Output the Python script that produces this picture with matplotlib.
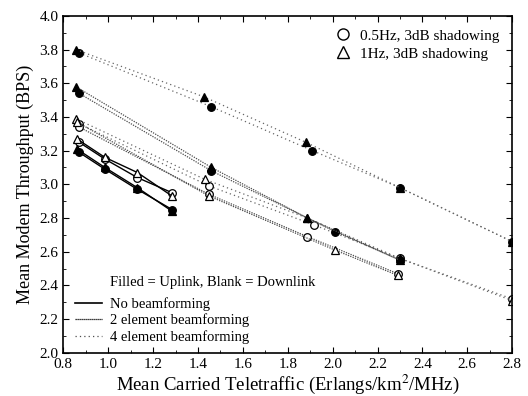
import numpy as np
import matplotlib.pyplot as plt
from matplotlib.lines import Line2D
from matplotlib.ticker import MultipleLocator

plt.rc('font', family='serif')
plt.rc('font', serif='Liberation Serif')
plt.rcParams['mathtext.fontset'] = 'stix'
fonts = 10.5

# no beamforming
nb_ul_05_x = [0.87, 0.985, 1.13, 1.285]
nb_ul_05_y = [3.19, 3.09, 2.97, 2.85]
nb_ul_1_x = [0.86, 0.985, 1.13, 1.285]
nb_ul_1_y = [3.21, 3.10, 2.98, 2.84]
nb_dl_05_x = [0.87, 0.985, 1.13, 1.285]
nb_dl_05_y = [3.25, 3.15, 3.04, 2.95]
nb_dl_1_x = [0.86, 0.985, 1.13, 1.285]
nb_dl_1_y = [3.27, 3.16, 3.07, 2.93]

# 2 element beamforming
b2_ul_05_x = [0.87, 1.46, 2.01, 2.30]
b2_ul_05_y = [3.54, 3.08, 2.72, 2.55]
b2_ul_1_x = [0.855, 1.46, 1.887, 2.30]
b2_ul_1_y = [3.58, 3.10, 2.80, 2.55]
b2_dl_05_x = [0.87, 1.45, 1.887, 2.29]
b2_dl_05_y = [3.34, 2.94, 2.69, 2.47]
b2_dl_1_x = [0.86, 1.45, 2.01, 2.29]
b2_dl_1_y = [3.37, 2.93, 2.61, 2.46]

# 4 element beamforming
b4_ul_05_x = [0.87, 1.46, 1.91, 2.30, 2.80]
b4_ul_05_y = [3.78, 3.46, 3.20, 2.98, 2.66]
b4_ul_1_x = [0.855, 1.425, 1.88, 2.30, 2.80]
b4_ul_1_y = [3.80, 3.52, 3.25, 2.98, 2.66]
b4_dl_05_x = [0.87, 1.45, 1.915, 2.30, 2.80]
b4_dl_05_y = [3.36, 2.99, 2.76, 2.56, 2.32]
b4_dl_1_x = [0.855, 1.43, 1.887, 2.30, 2.80]
b4_dl_1_y = [3.39, 3.03, 2.80, 2.56, 2.31]

fig = plt.figure(figsize=(5.28, 3.96), dpi=100)
ax = fig.add_axes([0.12, 0.109, 0.85, 0.851])

ls_nb = '-'
ls_b2 = (0, (1, 1))
ls_b4 = (0, (1, 2.5))
col_nb = 'k'
col_b2 = '0.3'
col_b4 = '0.4'
ms = 5.5

def draw(x, y, ls, lc, marker, filled):
    ax.plot(x, y, linestyle=ls, color=lc, linewidth=1.0 if ls == '-' else 0.9)
    ax.plot(x, y, linestyle='none', marker=marker, markersize=ms,
            markerfacecolor='k' if filled else 'white',
            markeredgecolor='k', markeredgewidth=0.9)

draw(b4_ul_05_x, b4_ul_05_y, ls_b4, col_b4, 'o', True)
draw(b4_ul_1_x, b4_ul_1_y, ls_b4, col_b4, '^', True)
draw(b4_dl_05_x, b4_dl_05_y, ls_b4, col_b4, 'o', False)
draw(b4_dl_1_x, b4_dl_1_y, ls_b4, col_b4, '^', False)
draw(b2_ul_05_x, b2_ul_05_y, ls_b2, col_b2, 'o', True)
draw(b2_ul_1_x, b2_ul_1_y, ls_b2, col_b2, '^', True)
draw(b2_dl_05_x, b2_dl_05_y, ls_b2, col_b2, 'o', False)
draw(b2_dl_1_x, b2_dl_1_y, ls_b2, col_b2, '^', False)
draw(nb_dl_05_x, nb_dl_05_y, ls_nb, col_nb, 'o', False)
draw(nb_dl_1_x, nb_dl_1_y, ls_nb, col_nb, '^', False)
draw(nb_ul_05_x, nb_ul_05_y, ls_nb, col_nb, 'o', True)
draw(nb_ul_1_x, nb_ul_1_y, ls_nb, col_nb, '^', True)

ax.set_xlim(0.8, 2.8)
ax.set_ylim(2.0, 4.0)
ax.xaxis.set_major_locator(MultipleLocator(0.2))
ax.xaxis.set_minor_locator(MultipleLocator(0.1))
ax.yaxis.set_major_locator(MultipleLocator(0.2))
ax.yaxis.set_minor_locator(MultipleLocator(0.1))
ax.xaxis.set_major_formatter(plt.FormatStrFormatter('%.1f'))
ax.yaxis.set_major_formatter(plt.FormatStrFormatter('%.1f'))
ax.tick_params(which='both', direction='in', top=True, right=True, labelsize=11)
ax.tick_params(which='major', length=4)
ax.tick_params(which='minor', length=2)
for s in ax.spines.values():
    s.set_linewidth(1.2)

ax.set_xlabel('Mean Carried Teletraffic (Erlangs/km$^2$/MHz)', fontsize=13.5, labelpad=1.5)
ax.set_ylabel('Mean Modem Throughput (BPS)', fontsize=13, labelpad=4)

h1 = [Line2D([], [], linestyle='none', marker='o', markersize=8, markerfacecolor='white', markeredgecolor='k'),
      Line2D([], [], linestyle='none', marker='^', markersize=8, markerfacecolor='white', markeredgecolor='k')]
leg1 = ax.legend(h1, ['0.5Hz, 3dB shadowing', '1Hz, 3dB shadowing'], loc='upper right',
                 frameon=False, fontsize=11, handlelength=1.0, handletextpad=0.6,
                 labelspacing=0.3, borderaxespad=0.45)
ax.add_artist(leg1)

h2 = [Line2D([], [], linestyle=ls_nb, color='k', linewidth=1.2),
      Line2D([], [], linestyle=(0, (1, 0.6)), color='k', linewidth=0.9),
      Line2D([], [], linestyle=(0, (1, 2.5)), color='0.3', linewidth=0.9)]
ax.legend(h2, ['No beamforming', '2 element beamforming', '4 element beamforming'],
          loc='lower left', bbox_to_anchor=(0.007, 0.0), frameon=False, fontsize=fonts,
          handlelength=1.8, handletextpad=0.6, labelspacing=0.2, borderaxespad=0.2)
ax.text(0.105, 0.208, 'Filled = Uplink, Blank = Downlink', transform=ax.transAxes,
        fontsize=fonts, va='center', ha='left')

plt.savefig('out.png', dpi=100)
